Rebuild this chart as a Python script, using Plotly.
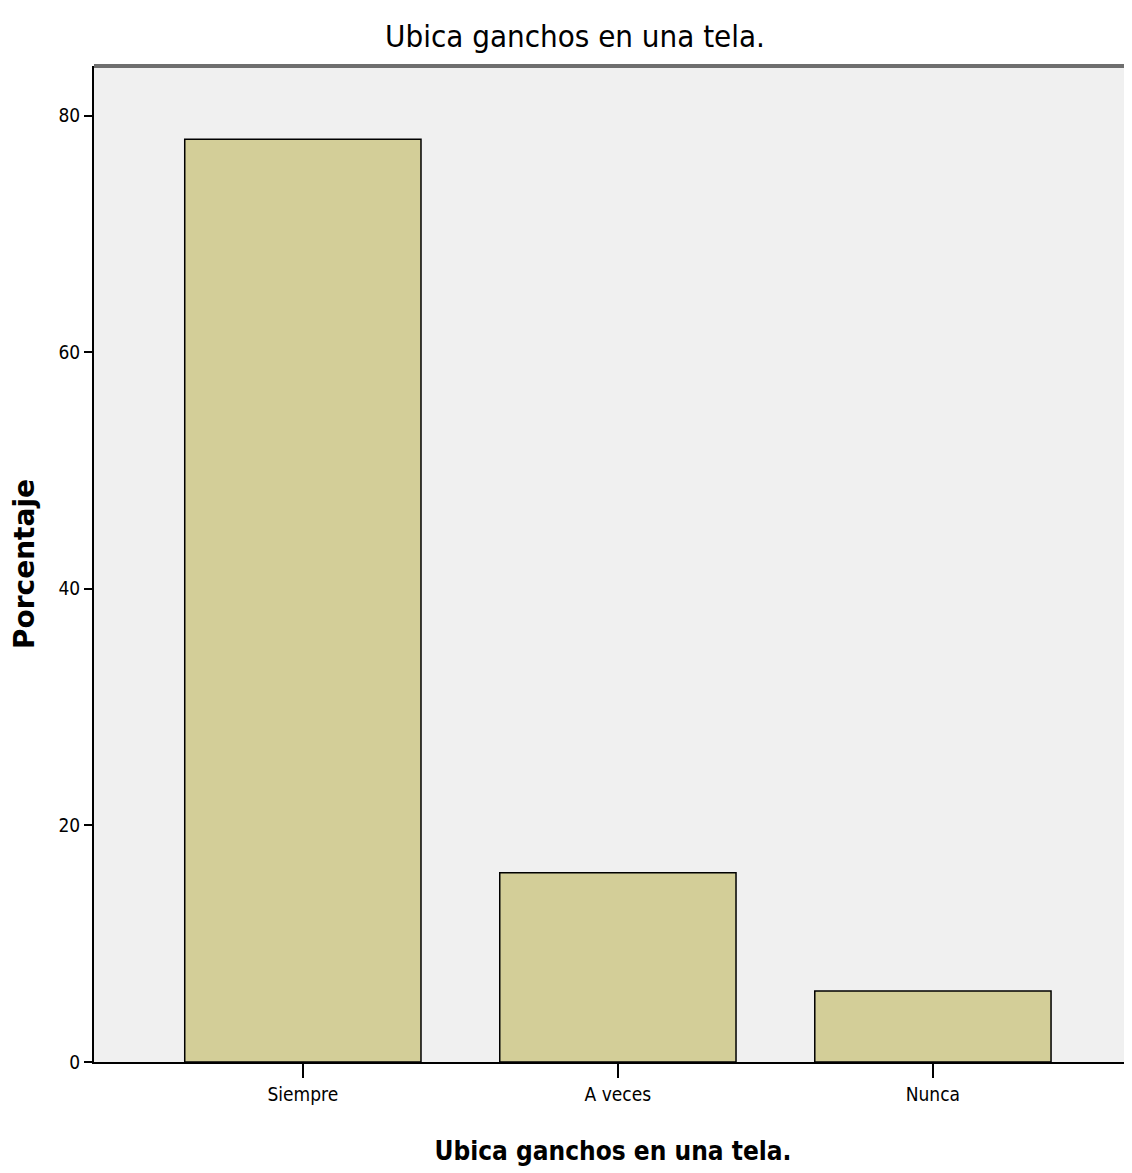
import plotly.graph_objects as go

categories = ["Siempre", "A veces", "Nunca"]
values = [78.0, 16.0, 6.0]
y_ticks = [0, 20, 40, 60, 80]

narrow = "DejaVu Sans Condensed, Liberation Sans Narrow, Arial Narrow, Liberation Sans, sans-serif"

# page body has an 8px default margin; shrink the figure accordingly
W, H, OFF = 1132, 1173, 8

fig = go.Figure()
fig.add_trace(go.Bar(
    x=categories, y=values, width=0.75,
    marker=dict(color="#D3CE98", line=dict(color="#000000", width=1.5)),
))

fig.update_layout(
    width=W - OFF, height=H - OFF,
    margin=dict(l=94 - OFF, r=0, t=66 - OFF, b=111),
    paper_bgcolor="white", plot_bgcolor="#F0F0F0",
    showlegend=False,
    title=dict(text="Ubica ganchos en una tela.", x=(575 - OFF) / (W - OFF), xanchor="center",
               y=1 - (36 - OFF) / (H - OFF), yanchor="middle",
               font=dict(family=narrow, size=31, color="#000000")),
    xaxis=dict(range=[-0.663, 2.632], showgrid=False, zeroline=False,
               showline=True, linecolor="#000000", linewidth=2,
               ticks="outside", ticklen=14, tickwidth=2, tickcolor="#000000",
               tickfont=dict(family=narrow, size=19, color="#000000"),
               title=dict(text="<b>Ubica ganchos en una tela.</b>", standoff=38,
                          font=dict(family=narrow, size=26, color="#000000"))),
    yaxis=dict(range=[0, 84.2], tickvals=y_ticks, showgrid=False, zeroline=False,
               showline=True, linecolor="#000000", linewidth=2,
               ticks="outside", ticklen=8, tickwidth=2, tickcolor="#000000",
               tickfont=dict(family=narrow, size=19, color="#000000"),
               title=dict(text="<b>Porcentaje</b>", standoff=22,
                          font=dict(family="DejaVu Sans, Liberation Sans, sans-serif", size=28, color="#000000"))),
    shapes=[dict(type="line", xref="paper", yref="paper", x0=0, x1=1, y0=1, y1=1,
                 line=dict(color="#6E6E6E", width=4))],
)

fig.write_html("out.html")
